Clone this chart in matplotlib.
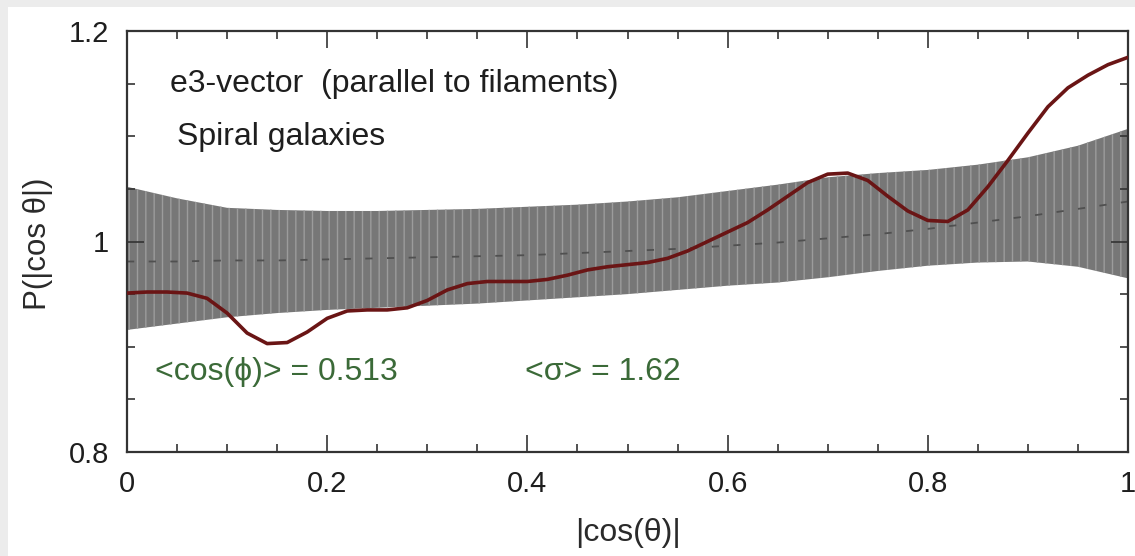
import matplotlib
matplotlib.use("Agg")
import matplotlib.pyplot as plt
from matplotlib.patches import Rectangle
from matplotlib.ticker import MultipleLocator

plt.rcParams['font.family'] = ['Liberation Sans', 'DejaVu Sans']
plt.rcParams['hatch.linewidth'] = 1.0

# Random-orientation envelope (mean and 1-sigma band) sampled along |cos(theta)|
band_x = [0.00, 0.05, 0.10, 0.15, 0.20, 0.25, 0.30, 0.35, 0.40, 0.45, 0.50,
          0.55, 0.60, 0.65, 0.70, 0.75, 0.80, 0.85, 0.90, 0.95, 1.00]
band_upper = [1.052, 1.041, 1.032, 1.030, 1.029, 1.029, 1.030, 1.031, 1.033, 1.035, 1.038,
              1.042, 1.048, 1.054, 1.061, 1.065, 1.068, 1.073, 1.080, 1.091, 1.107]
band_lower = [0.916, 0.922, 0.928, 0.932, 0.935, 0.937, 0.939, 0.941, 0.944, 0.947, 0.950,
              0.954, 0.958, 0.961, 0.966, 0.972, 0.977, 0.980, 0.981, 0.976, 0.965]
band_mean = [0.981, 0.981, 0.982, 0.982, 0.983, 0.984, 0.985, 0.986, 0.987, 0.989, 0.991,
             0.993, 0.996, 0.999, 1.003, 1.007, 1.012, 1.018, 1.024, 1.031, 1.038]

# Measured distribution for spiral galaxies
curve_x = [0.00, 0.02, 0.04, 0.06, 0.08, 0.10, 0.12, 0.14, 0.16, 0.18, 0.20,
           0.22, 0.24, 0.26, 0.28, 0.30, 0.32, 0.34, 0.36, 0.38, 0.40,
           0.42, 0.44, 0.46, 0.48, 0.50, 0.52, 0.54, 0.56, 0.58, 0.60,
           0.62, 0.64, 0.66, 0.68, 0.70, 0.72, 0.74, 0.76, 0.78, 0.80,
           0.82, 0.84, 0.86, 0.88, 0.90, 0.92, 0.94, 0.96, 0.98, 1.00]
curve_y = [0.951, 0.952, 0.952, 0.951, 0.946, 0.932, 0.913, 0.903, 0.904, 0.914, 0.927,
           0.934, 0.935, 0.935, 0.937, 0.944, 0.954, 0.960, 0.962, 0.962, 0.962,
           0.964, 0.968, 0.973, 0.976, 0.978, 0.980, 0.984, 0.991, 1.000, 1.009,
           1.018, 1.030, 1.043, 1.056, 1.064, 1.065, 1.058, 1.043, 1.029, 1.020,
           1.019, 1.030, 1.052, 1.077, 1.103, 1.128, 1.146, 1.158, 1.168, 1.175]

x_ticks = [0, 0.2, 0.4, 0.6, 0.8, 1]
x_tick_labels = ['0', '0.2', '0.4', '0.6', '0.8', '1']
y_ticks = [0.8, 1.0, 1.2]
y_tick_labels = ['0.8', '1', '1.2']

W, H = 1135, 556
fig = plt.figure(figsize=(W / 100, H / 100), dpi=100, facecolor='white')

# light grey frame strips along the top and left edges
fig.patches.append(Rectangle((0, 1 - 7 / H), 1, 7 / H, transform=fig.transFigure,
                             facecolor='#ececec', edgecolor='none', zorder=0))
fig.patches.append(Rectangle((0, 0), 8 / W, 1, transform=fig.transFigure,
                             facecolor='#ececec', edgecolor='none', zorder=0))

ax = fig.add_axes([127 / W, (H - 452) / H, 1001 / W, 421 / H])
ax.set_xlim(0, 1)
ax.set_ylim(0.8, 1.2)

ax.fill_between(band_x, band_lower, band_upper, facecolor='#777777',
                edgecolor='#9c9c9c', hatch='||', linewidth=0, zorder=1)
ax.plot(band_x, band_mean, color='#505050', lw=1.3, dashes=(4, 8), zorder=2)
ax.plot(curve_x, curve_y, color='#6a1515', lw=2.6, zorder=3,
        solid_capstyle='round', solid_joinstyle='round')

ax.set_xticks(x_ticks)
ax.set_xticklabels(x_tick_labels)
ax.set_yticks(y_ticks)
ax.set_yticklabels(y_tick_labels)
ax.xaxis.set_minor_locator(MultipleLocator(0.05))
ax.yaxis.set_minor_locator(MultipleLocator(0.05))
ax.tick_params(which='both', direction='in', top=True, right=True,
               color='#333333', width=1.2)
ax.tick_params(which='major', length=12, labelsize=21, pad=13, labelcolor='#1e1e1e')
ax.tick_params(which='minor', length=6)
for s in ax.spines.values():
    s.set_color('#333333')
    s.set_linewidth(1.6)

ax.set_xlabel('|cos(θ)|', fontsize=23, color='#2a2a2a', labelpad=14)
ax.set_ylabel('P(|cos θ|)', fontsize=22.5, color='#2a2a2a')
ax.yaxis.set_label_coords(-0.074, 0.494)

ax.text(0.043, 1.142, 'e3-vector  (parallel to filaments)', fontsize=23,
        color='#1e1e1e', va='baseline')
ax.text(0.050, 1.0915, 'Spiral galaxies', fontsize=23, color='#1e1e1e', va='baseline')
ax.text(0.028, 0.8684, '<cos(ϕ)> = 0.513', fontsize=23, color='#3b6a38', va='baseline')
ax.text(0.398, 0.8684, '<σ> = 1.62', fontsize=23, color='#3b6a38', va='baseline')

fig.savefig('out.png', dpi=100, facecolor=fig.get_facecolor())
